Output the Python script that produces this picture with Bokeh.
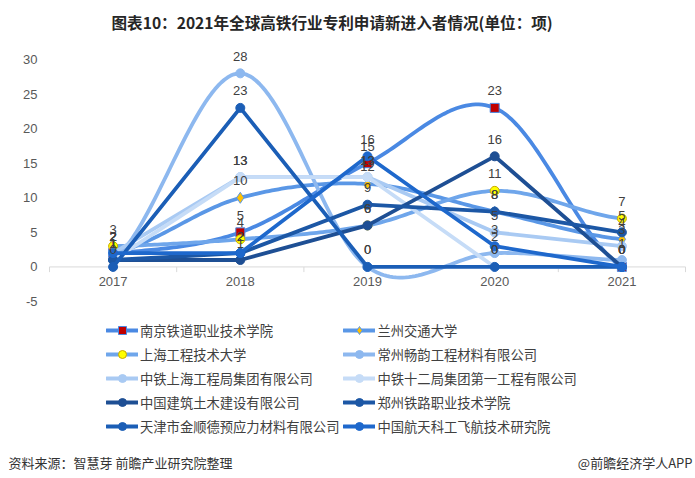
import numpy as np
from bokeh.plotting import figure
from bokeh.models import Range1d, Legend, LegendItem, Label
from bokeh.embed import file_html
from bokeh.resources import INLINE
from bokeh.core.properties import value

# ---------------- data ----------------
years = [2017, 2018, 2019, 2020, 2021]
year_labels = ["2017", "2018", "2019", "2020", "2021"]
y_ticks = [-5, 0, 5, 10, 15, 20, 25, 30]

names = ["南京铁道职业技术学院", "兰州交通大学", "上海工程技术大学", "常州畅韵工程材料有限公司",
         "中铁上海工程局集团有限公司", "中铁十二局集团第一工程有限公司", "中国建筑土木建设有限公司",
         "郑州铁路职业技术学院", "天津市金顺德预应力材料有限公司", "中国航天科工飞航技术研究院"]

nanjing = [2, 5, 15, 23, 0]
lanzhou = [2, 10, 12, 8, 4]
shanghai_eng = [3, 4, 6, 11, 7]
changzhou = [1, 28, 0, 2, 1]
crec_shanghai = [2, 13, 13, 5, 3]
crec_12 = [1, 13, 13, 0, 0]
cscec_civil = [1, 1, 6, 16, 0]
zhengzhou = [1, 2, 9, 8, 5]
tianjin = [0, 23, 0, 0, 0]
casic = [2, 2, 16, 3, 0]

series = [nanjing, lanzhou, shanghai_eng, changzhou, crec_shanghai, crec_12,
          cscec_civil, zhengzhou, tianjin, casic]
smooth = [True, True, True, True, False, False, False, False, False, False]
line_colors = ["#4A89E3", "#5A97E6", "#6FA6EB", "#8DB8EF", "#A9CAF3", "#C6DCF7",
               "#1E4F94", "#1C57A5", "#1B5EB6", "#1E68CC"]
markers = ["square", "diamond", "circle", "circle", "circle", "circle",
           "circle", "circle", "circle", "circle"]
marker_fill = ["#C00000", "#FFC000", "#FFFF00", "#8DB8EF", "#A9CAF3", "#C6DCF7",
               "#1E4F94", "#1C57A5", "#1B5EB6", "#1E68CC"]
marker_line = ["#4A89E3", "#5A97E6", "#C9A800", "#8DB8EF", "#A9CAF3", "#C6DCF7",
               "#1E4F94", "#1C57A5", "#1B5EB6", "#1E68CC"]

# ---------------- helpers ----------------
def smooth_path(xs, ys, n=40):
    xs = np.asarray(xs, float)
    ys = np.asarray(ys, float)
    k = len(ys)
    m = np.zeros(k)
    for i in range(k):
        if i == 0:
            m[i] = (ys[1] - ys[0]) / 2
        elif i == k - 1:
            m[i] = (ys[-1] - ys[-2]) / 2
        else:
            m[i] = (ys[i + 1] - ys[i - 1]) / 2
    px, py = [], []
    for i in range(k - 1):
        t = np.linspace(0, 1, n, endpoint=(i == k - 2))
        h00 = 2 * t**3 - 3 * t**2 + 1
        h10 = t**3 - 2 * t**2 + t
        h01 = -2 * t**3 + 3 * t**2
        h11 = t**3 - t**2
        py.extend(h00 * ys[i] + h10 * m[i] + h01 * ys[i + 1] + h11 * m[i + 1])
        px.extend(xs[i] + t * (xs[i + 1] - xs[i]))
    return px, py

# ---------------- geometry (canvas px) ----------------
W, H = 695, 478
PL, PR, PT, PB = 49, 685, 59, 301       # plotting area: x 2016.5..2021.5, y 30..-5
px_x = (PR - PL) / 5.0
px_y = (PB - PT) / 35.0
def to_x(cx):
    return 2016.5 + (cx - PL) / px_x
def to_y(cy):
    return -5 + (PB - cy) / px_y

p = figure(width=W, height=H, output_backend="svg", toolbar_location=None,
           x_range=Range1d(to_x(0), to_x(W)), y_range=Range1d(to_y(H), to_y(0)),
           x_axis_location=None, y_axis_location=None,
           min_border=0, min_border_left=0, min_border_right=0,
           min_border_top=0, min_border_bottom=0)
p.outline_line_color = None
p.grid.visible = False

FONT = "Noto Sans CJK SC"
NUMF = "Liberation Sans"

# y tick labels
p.text(x=[to_x(37)] * len(y_ticks), y=y_ticks, text=[str(t) for t in y_ticks],
       text_align="right", text_baseline="middle", text_font=value(NUMF),
       text_font_size="13px", text_color="#595959")

# zero axis line and category ticks
edges = [y - 0.5 for y in years] + [years[-1] + 0.5]
p.segment(x0=[edges[0]], y0=[0], x1=[edges[-1]], y1=[0], line_color="#D9D9D9", line_width=1)
p.segment(x0=edges, y0=[0] * len(edges), x1=edges, y1=[-0.75] * len(edges),
          line_color="#D9D9D9", line_width=1)
p.text(x=years, y=[0] * len(years), text=year_labels, text_align="center",
       text_baseline="middle", y_offset=15, text_font=value(NUMF),
       text_font_size="13px", text_color="#595959")

items = []
for i, vals in enumerate(series):
    if smooth[i]:
        lx, ly = smooth_path(years, vals)
    else:
        lx, ly = years, vals
    lr = p.line(lx, ly, line_color=line_colors[i], line_width=3.8, line_cap="round",
                line_join="round")
    size = 9 if markers[i] != "diamond" else 11
    sc = p.scatter(years, vals, marker=markers[i], size=size, fill_color=marker_fill[i],
                   line_color=marker_line[i], line_width=1)
    items.append(LegendItem(label=names[i], renderers=[lr, sc]))

# data labels
for i, vals in enumerate(series):
    p.text(x=years, y=vals, text=[str(v) for v in vals], text_align="center",
           text_baseline="middle", y_offset=-17, text_font=value(NUMF),
           text_font_size="13px", text_color="#404040")

# legend: two columns, row-major reading order
order = list(range(0, len(items), 2)) + list(range(1, len(items), 2))
legend = Legend(items=[items[k] for k in order], ncols=2, location=(106, 42),
                orientation="vertical")
legend.border_line_color = None
legend.background_fill_alpha = 0
legend.label_text_font = FONT
legend.label_text_font_size = "13.3px"
legend.label_text_color = "#404040"
legend.glyph_width = 32
legend.glyph_height = 20
legend.label_height = 20
legend.label_standoff = 2
legend.spacing = 4
legend.padding = 0
legend.margin = 0
p.add_layout(legend, "center")

# title and source notes
p.add_layout(Label(x=to_x(111), y=to_y(21), text="图表10：2021年全球高铁行业专利申请新进入者情况(单位：项)",
                   text_font=FONT, text_font_size="15.6px", text_font_style="bold",
                   text_color="#262626", text_baseline="middle", text_align="left"))
p.add_layout(Label(x=to_x(8), y=to_y(462), text="资料来源：智慧芽 前瞻产业研究院整理",
                   text_font=FONT, text_font_size="13px", text_color="#333333",
                   text_baseline="middle", text_align="left"))
p.add_layout(Label(x=to_x(692), y=to_y(462), text="@前瞻经济学人APP",
                   text_font=FONT, text_font_size="13px", text_color="#333333",
                   text_baseline="middle", text_align="right"))

open("out.html", "w").write(file_html(p, INLINE))
